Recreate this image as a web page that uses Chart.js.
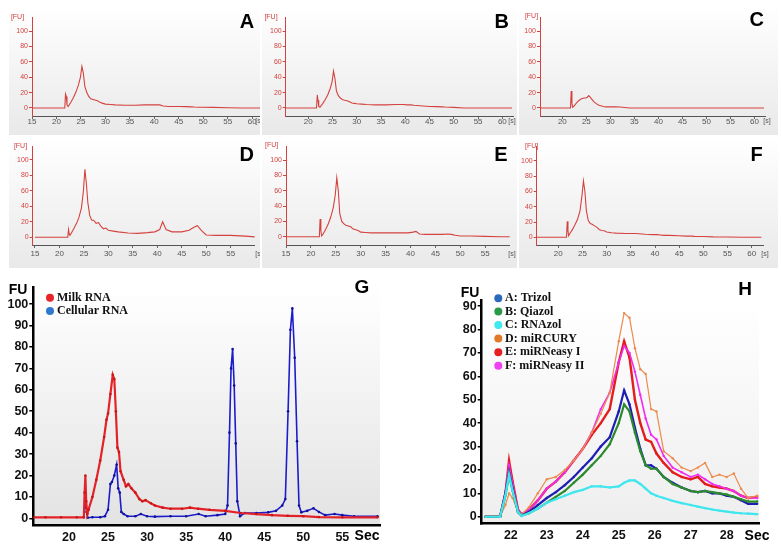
<!DOCTYPE html>
<html>
<head>
<meta charset="utf-8">
<script src="https://cdn.jsdelivr.net/npm/chart.js@4.4.1/dist/chart.umd.min.js"></script>
<style>
  html, body { margin: 0; padding: 0; background: #fff; }
  #fig { position: relative; width: 781px; height: 557px; overflow: hidden; }
  #fig canvas { position: absolute; }
  .trace { background: linear-gradient(#ffffff, #e9e9e9); }
</style>
</head>
<body>
<div id="fig">
  <canvas id="cA" class="trace"></canvas>
  <canvas id="cB" class="trace"></canvas>
  <canvas id="cC" class="trace"></canvas>
  <canvas id="cD" class="trace"></canvas>
  <canvas id="cE" class="trace"></canvas>
  <canvas id="cF" class="trace"></canvas>
  <canvas id="cG"></canvas>
  <canvas id="cH"></canvas>
</div>
<script>
/* ---------- data: electropherograms A-F (time in s, FU) ---------- */
const topTime = [15, 21.7, 21.85, 22.0, 22.15, 22.4, 23, 23.5, 24, 24.5, 24.9, 25.2, 25.5, 25.8, 26.2, 26.6, 27, 27.5, 28, 28.5, 29, 29.5, 30, 31, 32, 34, 36, 38, 39.5, 40.5, 41.1, 41.8, 43, 45, 46.5, 47.5, 48.2, 49, 50, 52, 55, 58, 60, 62];
const fuTrizol     = [0, 0, 18, 15, 4, 2, 8, 14, 21, 30, 40, 54, 45, 28, 20, 15, 12, 11, 10, 9, 7, 6, 5, 4.5, 4, 3.5, 3.5, 4, 4, 4, 4, 2.5, 2, 2, 1.8, 1.5, 1.2, 1, 1, 0.8, 0.4, 0, 0, 0];
const fuQiazol     = [0, 0, 17, 10, 2, 1, 6, 11, 17, 25, 34, 48, 38, 22, 16, 13, 11, 10, 9.5, 8, 6.5, 6, 5.5, 5, 4.5, 4, 4, 4.5, 4.5, 4, 4, 3.5, 3, 2, 1.8, 1.5, 1.2, 1, 0.8, 0, 0, 0, 0, 0];
const fuRNAzol     = [0, 0, 22, 6, 1, 2, 7, 10, 12, 13, 13, 14, 16, 14, 11, 8, 6, 4, 3, 2, 1.5, 1.5, 1.5, 1.5, 1.2, 0, 0, 0, 0, 0, 0, 0, 0, 0, 0, 0, 0, 0, 0, 0, 0, 0, 0, 0];
const fuMiRCURY    = [0, 0, 10, 4, 3, 5, 12, 18, 26, 38, 60, 88, 70, 45, 28, 22, 22, 18, 19, 14, 11, 12, 9, 8, 7, 5.5, 5, 6, 7, 10, 20, 10, 7, 7, 9, 13, 15, 9, 3, 2.5, 2.5, 1.5, 0.5, 0.5];
const fuMiRNeasyI  = [0, 0, 23, 8, 1, 3, 10, 17, 26, 38, 55, 77, 60, 30, 20, 17, 15, 14, 13, 10, 9, 8, 6, 5.5, 5, 5, 5, 5, 5, 6, 7, 3.5, 3, 3, 3, 3.5, 3, 2, 1, 1, 0.5, 0, 0, 0];
const fuMiRNeasyII = [0, 0, 21, 8, 2, 5, 11, 17, 24, 35, 55, 74, 60, 35, 22, 18, 17, 15, 13, 10, 9, 8.5, 7, 6, 5.5, 5, 5, 4, 3.5, 3.5, 3, 2.5, 2.5, 2, 1.5, 1.5, 1.2, 1, 1, 0.5, 0.3, 0, 0, 0];

/* ---------- data: G, milk vs cellular RNA ---------- */
const milkTime = [15.5, 17, 19, 21, 21.9, 22.0, 22.1, 22.2, 22.35, 22.5, 23.0, 23.5, 24.0, 24.5, 24.8, 25.0, 25.3, 25.6, 25.8, 26.0, 26.2, 26.4, 26.6, 27.0, 27.3, 27.6, 28.0, 28.5, 29.0, 29.4, 29.8, 30.5, 31, 32, 33, 34.5, 35.5, 36.5, 38, 40, 42, 44, 46, 48, 50, 52, 55, 59.5];
const milkFU   = [0.5, 0.5, 0.5, 0.5, 0.5, 12, 20, 8, 2, 4, 10, 18, 27, 38, 46, 49, 58, 67, 65, 50, 33, 31, 22, 18, 15, 16, 14, 12, 9, 8, 8.5, 7, 6, 5, 4.5, 4.5, 5, 4.5, 4, 3.5, 2.5, 2, 1.5, 1.2, 1, 0.6, 0.5, 0.5];
const cellTime = [22.0, 22.1, 22.25, 22.4, 23, 24, 24.6, 25.0, 25.3, 25.5, 25.8, 26.1, 26.3, 26.5, 26.7, 27.0, 27.5, 28.5, 29.2, 30, 31, 33, 35, 36.6, 37.5, 39, 40.0, 40.3, 40.55, 40.75, 40.95, 41.15, 41.35, 41.55, 41.9, 42.5, 44, 45.5, 46.5, 47.3, 47.7, 48.05, 48.35, 48.6, 48.9, 49.2, 49.45, 49.75, 50.5, 51.3, 52, 52.8, 54, 55, 56.5, 59.5];
const cellFU   = [5, 8, 3, 0.3, 0.5, 0.5, 1, 4, 16, 17, 20, 25, 14, 12, 3, 2, 1, 1, 2, 1, 0.8, 1, 1, 2, 1, 1.5, 2, 6, 40, 70, 79, 62, 35, 8, 1, 2.5, 2.5, 2.8, 3.5, 6, 9, 50, 88, 98, 75, 36, 6, 2.8, 3.5, 4.7, 3, 1.5, 2, 1.5, 1, 1];
const milkLegend = ['Milk RNA', 'Cellular RNA'];

/* ---------- data: H, zoom of the small RNA region ---------- */
const zoomTime = [21.3, 21.7, 21.85, 21.95, 22.05, 22.2, 22.3, 22.5, 22.75, 23.0, 23.25, 23.5, 23.75, 24.0, 24.25, 24.5, 24.75, 25.0, 25.15, 25.3, 25.45, 25.6, 25.75, 25.9, 26.05, 26.25, 26.5, 26.75, 27.0, 27.2, 27.4, 27.6, 27.8, 28.0, 28.2, 28.4, 28.6, 28.85];
const zTrizol     = [0, 0, 10, 19, 12, 2, 0.5, 2, 5, 8, 10.5, 13.5, 17, 21, 25, 30, 34, 45, 54, 48, 38, 29, 22, 22, 20.5, 17, 14.5, 12.5, 11, 10.5, 11, 10, 10, 9, 8.5, 7, 5.5, 5.5];
const zQiazol     = [0, 0, 9, 18, 11, 2, 0.5, 1.5, 3.5, 6, 8.5, 11, 14.5, 18, 22, 26, 31, 40, 48, 45, 36, 28, 22, 20.5, 20.5, 17, 14, 12.5, 11, 10.5, 11, 10.5, 10, 9.5, 8.5, 7.5, 6.5, 6.5];
const zRNAzol     = [0, 0, 9, 18, 11, 2, 0.3, 1.5, 3.5, 6, 7.5, 9, 10.5, 11.5, 13, 13, 12.5, 13, 14.5, 15.5, 15.5, 14, 12, 10, 9, 8, 6.8, 5.8, 5, 4.3, 3.7, 3.1, 2.6, 2.2, 1.8, 1.5, 1.3, 1.1];
const zMiRCURY    = [0, 0, 5, 10, 8, 2, 1, 4, 10, 16, 17, 20, 24, 29, 36, 44, 53, 75, 87, 85, 72, 63, 61, 46, 45, 28, 25, 21, 19.5, 21, 23, 17, 18, 17, 18.5, 12, 8, 9];
const zMiRNeasyI  = [0, 0, 10, 24, 15, 3, 1, 3, 7, 12, 15, 19, 24, 29, 35, 40, 46, 66, 75, 68, 50, 40, 33, 32, 27, 23, 19, 17, 16, 17, 14, 13, 12.5, 12, 11, 9, 8, 8.5];
const zMiRNeasyII = [0, 0, 11, 22, 14, 3, 1, 3, 7, 12, 15, 19, 24, 29, 36, 46, 53, 66, 73, 70, 62, 52, 42, 35, 33, 26, 21, 19, 17, 18, 16, 14, 13, 12, 11, 9, 8, 8];
const kitNames = ['A: Trizol', 'B: Qiazol', 'C: RNAzol', 'D: miRCURY', 'E: miRNeasy I', 'F: miRNeasy II'];
const panelLetters = ['A', 'B', 'C', 'D', 'E', 'F', 'G', 'H'];

/* ---------- helpers ---------- */
const pairs = (xs, ys) => xs.map((x, i) => ({ x: x, y: ys[i] }));

// draws free text, legend dots etc. (absolute page coords converted per canvas)
const annotate = {
  id: 'annotate',
  afterDraw(chart, args, opts) {
    const ctx = chart.ctx;
    (opts.items || []).forEach(it => {
      ctx.save();
      if (it.dot) {
        ctx.fillStyle = it.dot;
        ctx.beginPath();
        ctx.arc(it.x - opts.ox, it.y - opts.oy, it.r || 4, 0, Math.PI * 2);
        ctx.fill();
      }
      if (it.text) {
        ctx.font = it.font;
        ctx.fillStyle = it.color || '#000';
        ctx.textAlign = it.align || 'center';
        ctx.textBaseline = 'middle';
        ctx.fillText(it.text, (it.tx !== undefined ? it.tx : it.x) - opts.ox, it.y - opts.oy);
      }
      ctx.restore();
    });
  }
};

// soft gray gradient behind the plot area (G, H)
const plotFill = {
  id: 'plotFill',
  beforeDraw(chart, args, opts) {
    if (!opts.to) return;
    const { ctx, chartArea: a } = chart;
    const g = ctx.createLinearGradient(0, a.top, 0, a.bottom);
    g.addColorStop(0, opts.from);
    g.addColorStop(1, opts.to);
    ctx.save();
    ctx.fillStyle = g;
    ctx.fillRect(a.left, a.top, a.right - a.left, a.bottom - a.top);
    ctx.restore();
  }
};
Chart.register(annotate, plotFill);

function place(p) {
  const cv = document.getElementById(p.id);
  cv.width = p.w; cv.height = p.h;
  cv.style.left = p.left + 'px'; cv.style.top = p.top + 'px';
  cv.style.width = p.w + 'px'; cv.style.height = p.h + 'px';
  return cv;
}

function fixed(size, horizontal) {
  return s => {
    if (horizontal) s.height = size; else s.width = size;
    s.paddingLeft = 0; s.paddingRight = 0; s.paddingTop = 0; s.paddingBottom = 0;
  };
}

function padding(p) {
  return {
    left: p.L - p.left - p.yw,
    top: p.T - p.top,
    right: p.left + p.w - p.R,
    bottom: p.top + p.h - p.B - p.xh
  };
}

/* ---------- A-F: Bioanalyzer style traces ---------- */
const traceRed = '#d4423f';
const smallFont = { family: 'Liberation Sans', size: 7 };
const narrowFont = { family: 'Liberation Sans Narrow, Liberation Sans', size: 8 };

const topPanels = [
  { id: 'cA', left: 9,   top: 4,   w: 251, h: 131, L: 32,    T: 17,    R: 260,   B: 116, xmin: 15,    xmax: 61.6, ymin: -10.4, ymax: 118.2, fu: fuTrizol,     xpad: -2, letter: [247, 22],    fuLab: [17.5, 17],  sLab: [259, 121] },
  { id: 'cB', left: 262, top: 4,   w: 255, h: 131, L: 285.7, T: 17,    R: 513,   B: 116, xmin: 15.34, xmax: 62.2, ymin: -10.4, ymax: 118.2, fu: fuQiazol,     xpad: -2, letter: [501.7, 22],  fuLab: [271, 17],   sLab: [512, 121] },
  { id: 'cC', left: 519, top: 4,   w: 259, h: 131, L: 540,   T: 17,    R: 765,   B: 116, xmin: 15.35, xmax: 62.2, ymin: -10.4, ymax: 118.2, fu: fuRNAzol,     xpad: -2, letter: [756.7, 20],  fuLab: [531.5, 16], sLab: [767, 121] },
  { id: 'cD', left: 9,   top: 138, w: 251, h: 130, L: 32.7,  T: 146.7, R: 254.6, B: 245, xmin: 14.53, xmax: 59.9, ymin: -10,   ymax: 117.2, fu: fuMiRCURY,    xpad: 1, letter: [246.7, 155.7], fuLab: [20.5, 145.7], sLab: [259, 254] },
  { id: 'cE', left: 262, top: 138, w: 255, h: 130, L: 286,   T: 146,   R: 509.6, B: 245, xmin: 15,    xmax: 59.9, ymin: -10.8, ymax: 118.3, fu: fuMiRNeasyI,  xpad: 1, letter: [501, 155.7], fuLab: [271.7, 145], sLab: [512, 254] },
  { id: 'cF', left: 519, top: 138, w: 259, h: 130, L: 536.7, T: 146.5, R: 763.3, B: 245, xmin: 15.53, xmax: 62.4, ymin: -10.1, ymax: 119,   fu: fuMiRNeasyII, xpad: 1, letter: [756.7, 155.7], fuLab: [531.7, 146], sLab: [765, 254] }
];

topPanels.forEach((p, i) => {
  p.yw = 16; p.xh = 14;
  const cv = place(p);
  new Chart(cv, {
    type: 'line',
    data: {
      datasets: [{
        data: pairs(topTime, p.fu),
        borderColor: traceRed,
        borderWidth: 1.1,
        pointRadius: 0,
        tension: 0
      }]
    },
    options: {
      responsive: false,
      animation: false,
      devicePixelRatio: 1,
      layout: { padding: padding(p) },
      plugins: {
        legend: { display: false },
        tooltip: { enabled: false },
        annotate: {
          ox: p.left, oy: p.top,
          items: [
            { text: panelLetters[i], x: p.letter[0], y: p.letter[1], font: 'bold 20px "Liberation Sans"', color: '#000' },
            { text: '[FU]', x: p.fuLab[0], y: p.fuLab[1], font: '7px "Liberation Sans"', color: traceRed },
            { text: '[s]', x: p.sLab[0], y: p.sLab[1], font: '7px "Liberation Sans"', color: '#555' }
          ]
        }
      },
      scales: {
        x: {
          type: 'linear', min: p.xmin, max: p.xmax,
          ticks: { stepSize: 5, includeBounds: false, autoSkip: false, maxRotation: 0, color: '#555', font: narrowFont, padding: p.xpad },
          grid: { display: true, drawOnChartArea: false, drawTicks: true, tickLength: 3, color: '#666' },
          border: { display: true, color: '#555', width: 1 },
          afterFit: fixed(p.xh, true)
        },
        y: {
          type: 'linear', min: p.ymin, max: p.ymax,
          ticks: { stepSize: 20, includeBounds: false, autoSkip: false, color: traceRed, font: smallFont, padding: 1 },
          grid: { display: true, drawOnChartArea: false, drawTicks: true, tickLength: 3, color: traceRed },
          border: { display: true, color: traceRed, width: 1 },
          afterFit: fixed(p.yw, false)
        }
      }
    }
  });
});

/* ---------- G and H: overlays ---------- */
const boldTick = { family: 'Liberation Sans', size: 12.5, weight: 'bold' };

function overlayScales(p) {
  return {
    x: {
      type: 'linear', min: p.xmin, max: p.xmax,
      ticks: { stepSize: p.xstep, includeBounds: false, autoSkip: false, maxRotation: 0, color: '#111', font: boldTick, padding: 5 },
      grid: { display: false, drawTicks: false },
      border: { display: true, color: '#000', width: 2.5 },
      afterFit: fixed(p.xh, true)
    },
    y: {
      type: 'linear', min: p.ymin, max: p.ymax,
      ticks: { stepSize: 10, includeBounds: false, autoSkip: false, color: '#111', font: boldTick, padding: 1 },
      grid: { display: true, drawOnChartArea: false, drawTicks: true, tickLength: 4, color: '#000', lineWidth: 1.5 },
      border: { display: true, color: '#000', width: 2.5 },
      afterFit: fixed(p.yw, false)
    }
  };
}

const gPanel = { id: 'cG', left: 0, top: 280, w: 390, h: 277, L: 33.3, T: 287, R: 380, B: 525, yw: 28, xh: 18, xmin: 15.43, xmax: 59.82, xstep: 5, ymin: -3.1, ymax: 108 };
const legendFont = 'bold 12px "Liberation Serif"';

new Chart(place(gPanel), {
  type: 'line',
  data: {
    datasets: [
      { label: milkLegend[0], data: pairs(milkTime, milkFU), borderColor: '#e3232a', backgroundColor: '#c81818', borderWidth: 2.2, pointRadius: 1.3, pointBorderWidth: 0, tension: 0 },
      { label: milkLegend[1], data: pairs(cellTime, cellFU), borderColor: '#1c1ccc', backgroundColor: '#10109a', borderWidth: 1.6, pointRadius: 1.3, pointBorderWidth: 0, tension: 0 }
    ]
  },
  options: {
    responsive: false,
    animation: false,
    devicePixelRatio: 1,
    layout: { padding: padding(gPanel) },
    plugins: {
      legend: { display: false },
      tooltip: { enabled: false },
      plotFill: { from: '#ffffff', to: '#e3e3e3' },
      annotate: {
        ox: gPanel.left, oy: gPanel.top,
        items: [
          { text: 'FU', x: 18, y: 290, font: 'bold 14px "Liberation Sans"' },
          { text: panelLetters[6], x: 362, y: 288, font: 'bold 19px "Liberation Sans"' },
          { text: 'Sec', x: 367, y: 536, font: 'bold 14px "Liberation Sans"' },
          { dot: '#e8242a', x: 50, y: 297.7, r: 4, text: milkLegend[0], tx: 57, align: 'left', font: legendFont, color: '#111' },
          { dot: '#2f78cc', x: 50, y: 311, r: 4, text: milkLegend[1], tx: 57, align: 'left', font: legendFont, color: '#111' }
        ]
      }
    },
    scales: overlayScales(gPanel)
  }
});

const hPanel = { id: 'cH', left: 390, top: 280, w: 391, h: 277, L: 481.7, T: 300, R: 759, B: 523.3, yw: 28, xh: 18, xmin: 21.19, xmax: 28.9, xstep: 1, ymin: -2.8, ymax: 92.6 };
const kitSeries = [zTrizol, zQiazol, zRNAzol, zMiRCURY, zMiRNeasyI, zMiRNeasyII];
const kitLine = ['#1e1eb4', '#2c8a2c', '#3fe6ee', '#ec8a4c', '#e41c1c', '#f02cf0'];
const kitDot  = ['#2a6ab8', '#2a9a48', '#40e8f0', '#e07a28', '#e62020', '#f040f0'];
const kitWidth = [2.2, 2.2, 2.2, 1.2, 2.4, 1.6];
const drawOrder = [2, 1, 0, 3, 5, 4];
const legendRows = [298.3, 311.5, 325, 338.5, 352.3, 365.7];

new Chart(place(hPanel), {
  type: 'line',
  data: {
    datasets: drawOrder.map(k => ({
      label: kitNames[k],
      data: pairs(zoomTime, kitSeries[k]),
      borderColor: kitLine[k],
      backgroundColor: kitLine[k],
      borderWidth: kitWidth[k],
      pointRadius: 1.2,
      pointBorderWidth: 0,
      tension: 0
    }))
  },
  options: {
    responsive: false,
    animation: false,
    devicePixelRatio: 1,
    layout: { padding: padding(hPanel) },
    plugins: {
      legend: { display: false },
      tooltip: { enabled: false },
      plotFill: { from: '#ffffff', to: '#eeeeee' },
      annotate: {
        ox: hPanel.left, oy: hPanel.top,
        items: [
          { text: 'FU', x: 470, y: 293, font: 'bold 14px "Liberation Sans"' },
          { text: panelLetters[7], x: 745, y: 290, font: 'bold 19px "Liberation Sans"' },
          { text: 'Sec', x: 757, y: 536, font: 'bold 14px "Liberation Sans"' }
        ].concat(kitNames.map((n, k) => ({
          dot: kitDot[k], x: 498.3, y: legendRows[k], r: 4, text: n, tx: 505, align: 'left', font: legendFont, color: '#111'
        })))
      }
    },
    scales: overlayScales(hPanel)
  }
});
</script>
</body>
</html>
